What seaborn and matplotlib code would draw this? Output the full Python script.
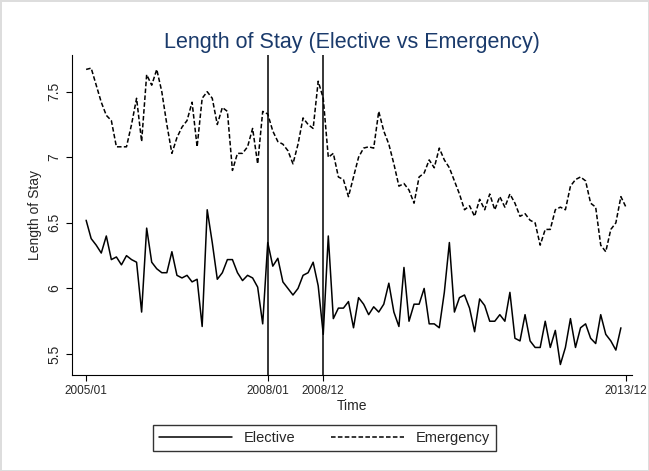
import numpy as np
import pandas as pd
import seaborn as sns
import matplotlib.pyplot as plt
from matplotlib.lines import Line2D

elective = [6.52, 6.38, 6.33, 6.27, 6.40, 6.22, 6.24, 6.18, 6.25, 6.22, 6.20, 5.82,
            6.46, 6.20, 6.15, 6.12, 6.12, 6.28, 6.10, 6.08, 6.10, 6.05, 6.07, 5.71,
            6.60, 6.35, 6.07, 6.12, 6.22, 6.22, 6.12, 6.06, 6.10, 6.08, 6.01, 5.73,
            6.35, 6.17, 6.23, 6.05, 6.00, 5.95, 6.00, 6.10, 6.12, 6.20, 6.02, 5.65,
            6.40, 5.77, 5.85, 5.85, 5.90, 5.70, 5.93, 5.88, 5.80, 5.86, 5.82, 5.88,
            6.04, 5.82, 5.71, 6.16, 5.75, 5.88, 5.88, 6.00, 5.73, 5.73, 5.70, 5.97,
            6.35, 5.82, 5.93, 5.95, 5.85, 5.67, 5.92, 5.87, 5.75, 5.75, 5.80, 5.75,
            5.97, 5.62, 5.60, 5.80, 5.60, 5.55, 5.55, 5.75, 5.55, 5.68, 5.42, 5.55,
            5.77, 5.55, 5.70, 5.73, 5.62, 5.58, 5.80, 5.65, 5.60, 5.53, 5.70]
emergency = [7.67, 7.68, 7.55, 7.42, 7.32, 7.28, 7.08, 7.08, 7.08, 7.25, 7.45, 7.12,
             7.63, 7.55, 7.67, 7.50, 7.25, 7.03, 7.15, 7.23, 7.28, 7.42, 7.08, 7.45,
             7.50, 7.45, 7.25, 7.38, 7.35, 6.90, 7.03, 7.03, 7.08, 7.22, 6.95, 7.35,
             7.33, 7.20, 7.12, 7.10, 7.05, 6.95, 7.10, 7.30, 7.25, 7.22, 7.58,
             7.45, 7.00, 7.03, 6.85, 6.83, 6.70, 6.85, 7.00, 7.07, 7.08, 7.07, 7.35,
             7.20, 7.10, 6.95, 6.78, 6.80, 6.75, 6.65, 6.85, 6.88, 6.98, 6.92, 7.07,
             6.98, 6.92, 6.82, 6.72, 6.60, 6.63, 6.55, 6.68, 6.60, 6.72, 6.60, 6.70,
             6.62, 6.72, 6.65, 6.55, 6.57, 6.52, 6.50, 6.33, 6.45, 6.45, 6.60, 6.62,
             6.60, 6.78, 6.83, 6.85, 6.82, 6.65, 6.62, 6.33, 6.28, 6.45, 6.50, 6.70, 6.62]
tick_pos = [0, 36, 47, 107]
tick_labels = ["2005/01", "2008/01", "2008/12", "2013/12"]
breaks = [36, 47]

df = pd.concat([
    pd.DataFrame({"t": np.arange(len(elective)), "los": elective, "type": "Elective"}),
    pd.DataFrame({"t": np.arange(len(emergency)), "los": emergency, "type": "Emergency"}),
])

sns.set_style("white")
plt.rcParams["font.family"] = ["Liberation Sans", "DejaVu Sans"]
fig = plt.figure(figsize=(6.49, 4.71), dpi=100)
ax = fig.add_axes([72 / 649, 1 - 375 / 471, 560 / 649, 320 / 471])
sns.lineplot(data=df, x="t", y="los", style="type", color="black", linewidth=1.1,
             dashes={"Elective": "", "Emergency": (3, 1.5)}, ax=ax, legend=False)
for b in breaks:
    ax.axvline(b, color="black", linewidth=1.1)

ax.set_xlim(-2.8, 108.2)
ax.set_ylim(5.34, 7.78)
ax.set_xticks(tick_pos, tick_labels, fontsize=8.5)
ax.set_yticks([5.5, 6, 6.5, 7, 7.5], ["5.5", "6", "6.5", "7", "7.5"], fontsize=10, rotation=90, va="center")
ax.set_xlabel("Time", fontsize=10, labelpad=1)
ax.set_ylabel("Length of Stay", fontsize=10)
ax.set_title("Length of Stay (Elective vs Emergency)", fontsize=15.5, color="#1a3a6b", pad=5)
for s in ["top", "right"]:
    ax.spines[s].set_visible(False)
for s in ["left", "bottom"]:
    ax.spines[s].set_color("black")
ax.tick_params(axis="both", length=4, color="black", direction="out", bottom=True, left=True)

handles = [Line2D([], [], color="black", lw=1.1),
           Line2D([], [], color="black", lw=1.1, dashes=(3, 1.5))]
fig.legend(handles, ["Elective", "Emergency"], loc="center", bbox_to_anchor=(0.5, 1 - 438 / 471),
           ncol=2, frameon=True, fancybox=False, edgecolor="black", fontsize=10.5,
           handlelength=5, columnspacing=2.5, borderpad=0.4)
fig.patch.set_edgecolor("#dddddd")
fig.patch.set_linewidth(1)
fig.savefig("out.png", dpi=100, edgecolor=fig.get_edgecolor())
